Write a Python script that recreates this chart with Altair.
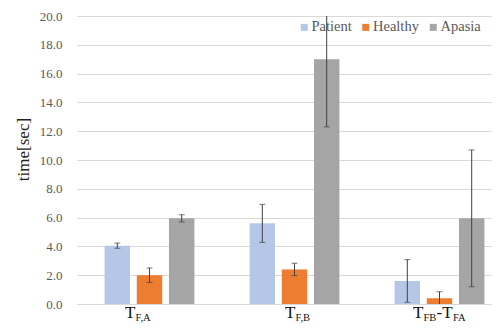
import altair as alt
import pandas as pd

groups = ["TFA", "TFB", "TFB-TFA"]
series = ["Patient", "Healthy", "Apasia"]
colors = ["#B4C7E7", "#ED7D31", "#A5A5A5"]

patient = [4.05, 5.6, 1.6]
patient_err = [0.18, 1.32, 1.48]
healthy = [2.0, 2.4, 0.4]
healthy_err = [0.5, 0.43, 0.45]
apasia = [5.95, 17.0, 5.95]
apasia_err = [0.25, 4.7, 4.75]

label_main = ["T", "T", "T"]
label_sub = ["F,A", "F,B", "FB"]
label_main2 = ["", "", "-T"]
label_sub2 = ["", "", "FA"]

y_ticks = [0, 2, 4, 6, 8, 10, 12, 14, 16, 18, 20]

rows = []
for s, vals, errs in [("Patient", patient, patient_err),
                      ("Healthy", healthy, healthy_err),
                      ("Apasia", apasia, apasia_err)]:
    for g, v, e in zip(groups, vals, errs):
        rows.append({"group": g, "series": s, "value": v,
                     "lo": v - e, "hi": v + e})
df = pd.DataFrame(rows)

lab = pd.DataFrame({"group": groups, "main": label_main, "sub": label_sub,
                    "main2": label_main2, "sub2": label_sub2})

FONT = "Liberation Serif, Times New Roman, DejaVu Serif, serif"

x_axis = alt.Axis(labels=False, ticks=False, title=None,
                  domainColor="#D9D9D9", domainWidth=1)
x_enc = alt.X("group:N", sort=groups,
              scale=alt.Scale(range=[-1, 434], paddingInner=0, paddingOuter=0),
              axis=x_axis)
xo_enc = alt.XOffset("series:N", sort=series,
                     scale=alt.Scale(paddingInner=0.21, paddingOuter=0.857))
y_scale = alt.Scale(domain=[0, 20], nice=False)
y_axis = alt.Axis(values=y_ticks, format=".1f", ticks=False,
                  labelPadding=16, labelFont=FONT, labelFontSize=13,
                  labelColor="#595959", labelOverlap=False,
                  domain=False, gridColor="#D9D9D9", gridWidth=1,
                  title="time[sec]", titleFont=FONT, titleFontSize=17,
                  titleFontWeight="normal", titleColor="#222222",
                  titleAngle=-90, titleX=-55, titleY=133,
                  titleBaseline="middle", titleAlign="center")

bars = alt.Chart(df).mark_bar().encode(
    x=x_enc,
    xOffset=xo_enc,
    y=alt.Y("value:Q", scale=y_scale, axis=y_axis),
    color=alt.Color("series:N", sort=series,
                    scale=alt.Scale(domain=series, range=colors),
                    legend=alt.Legend(orient="none", legendX=219, legendY=4,
                                      padding=0,
                                      direction="horizontal", title=None,
                                      symbolType="square", symbolSize=49,
                                      symbolStrokeWidth=0, labelFont=FONT,
                                      labelFontSize=14.5, labelColor="#595959",
                                      columnPadding=6.5, labelOffset=0)),
)

err = alt.Chart(df).mark_rule(color="#404040", strokeWidth=1, clip=True).encode(
    x=x_enc,
    xOffset=xo_enc,
    y=alt.Y("lo:Q", scale=y_scale, axis=y_axis),
    y2="hi:Q",
)
cap_lo = alt.Chart(df).mark_tick(color="#404040", thickness=1, size=6,
                                 orient="horizontal", clip=True).encode(
    x=x_enc, xOffset=xo_enc,
    y=alt.Y("lo:Q", scale=y_scale, axis=y_axis))
cap_hi = alt.Chart(df).mark_tick(color="#404040", thickness=1, size=6,
                                 orient="horizontal", clip=True).encode(
    x=x_enc, xOffset=xo_enc,
    y=alt.Y("hi:Q", scale=y_scale, axis=y_axis))

first = alt.Chart(lab).transform_filter(alt.datum.group == groups[0])
second = alt.Chart(lab).transform_filter(alt.datum.group == groups[1])
third = alt.Chart(lab).transform_filter(alt.datum.group == groups[2])

def txt(base, field, size, align, dx, ypix):
    return base.mark_text(font=FONT, fontSize=size, align=align, dx=dx,
                          baseline="alphabetic", color="#111111").encode(
        x=alt.X("group:N", sort=groups, axis=x_axis),
        y=alt.value(ypix),
        text=f"{field}:N")

labels = alt.layer(
    txt(first, "main", 17, "right", -14, 302),
    txt(first, "sub", 10.5, "left", -14, 304.5),
    txt(second, "main", 17, "right", 1, 302),
    txt(second, "sub", 10.5, "left", 1, 304.5),
    txt(third, "main", 17, "right", -16, 302),
    txt(third, "sub", 10.5, "left", -16, 304.5),
    txt(third, "main2", 17, "left", -3, 302),
    txt(third, "sub2", 10.5, "left", 13.5, 304.5),
)

chart = alt.layer(bars, err, cap_lo, cap_hi, labels).properties(
    width=414, height=288,
    padding={"left": 70, "top": 8, "right": 0, "bottom": 19},
    autosize=alt.AutoSizeParams(type="none"),
).configure_view(stroke=None).configure_axis(
    labelFont=FONT, titleFont=FONT
).configure_legend(labelFont=FONT)

chart.save("out.html", embed_options={"renderer": "svg", "actions": False})
